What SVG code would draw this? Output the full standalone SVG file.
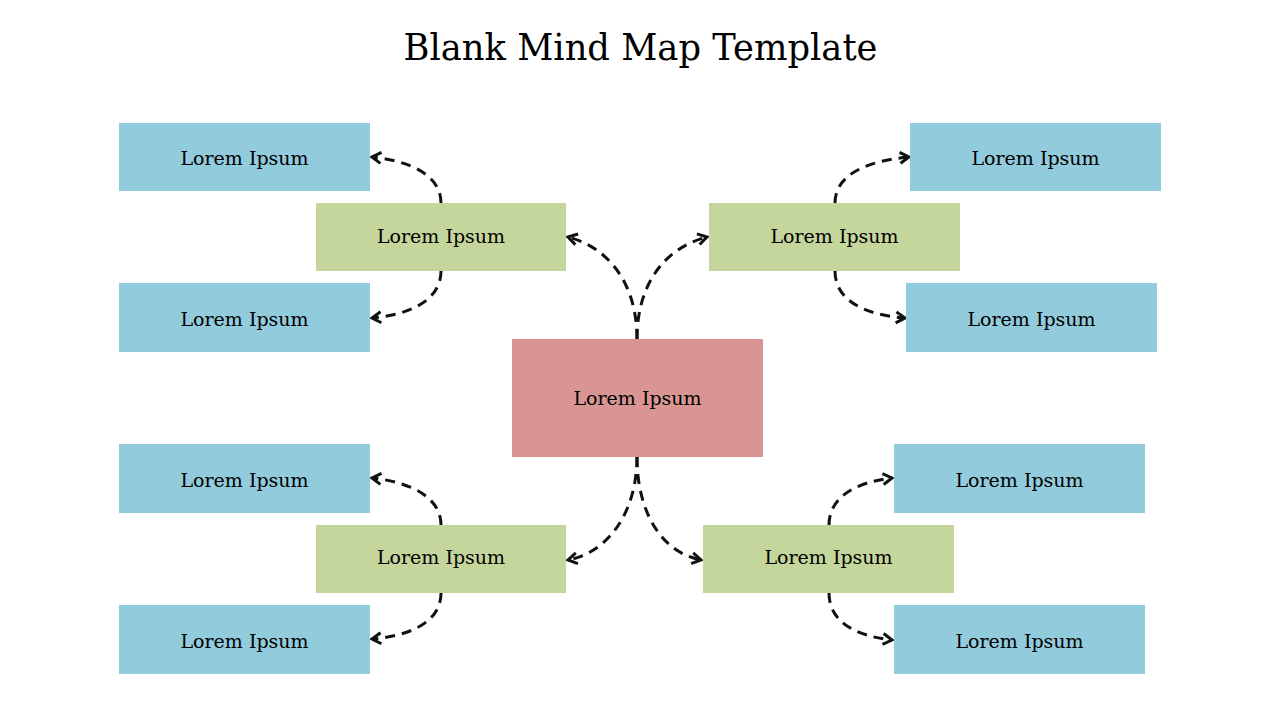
<svg xmlns="http://www.w3.org/2000/svg" width="1280" height="720" viewBox="0 0 1280 720">
<defs>
<marker id="arr" markerUnits="userSpaceOnUse" markerWidth="16" markerHeight="16" refX="11" refY="7" orient="auto">
<path d="M2,1.5 L11,7 L2,12.5" fill="none" stroke="#111" stroke-width="3" stroke-linejoin="miter"/>
</marker>
<style>
.blue{fill:#92CBDC}
.green{fill:#C4D69C}
.pink{fill:#D99594}
.t{font-family:"DejaVu Serif","Liberation Serif",serif;font-size:19px;fill:#000;text-anchor:middle;dominant-baseline:central}
.c{fill:none;stroke:#111;stroke-width:3;stroke-dasharray:10 7;marker-end:url(#arr)}
</style>
</defs>
<rect width="1280" height="720" fill="#fff"/>
<text x="640.5" y="47" textLength="474" lengthAdjust="spacingAndGlyphs" style="font-family:'DejaVu Serif','Liberation Serif',serif;font-size:37px;fill:#000;text-anchor:middle;dominant-baseline:central">Blank Mind Map Template</text>

<g id="connectors">
<path class="c" d="M637,339 C637,285 610,248 568,237"/>
<path class="c" d="M637,339 C637,285 664,248 707,237"/>
<path class="c" d="M637,457 C637,510 610,552 568,560"/>
<path class="c" d="M637,457 C637,510 660,552 701,560"/>
<path class="c" d="M441,203 C441,175 410,161 372,157"/>
<path class="c" d="M441,271 C441,300 410,315 372,318"/>
<path class="c" d="M835,203 C835,175 866,161 909,157"/>
<path class="c" d="M835,271 C835,300 864,315 905,318"/>
<path class="c" d="M441,525 C441,497 410,482 372,478"/>
<path class="c" d="M441,593 C441,622 410,636 372,639"/>
<path class="c" d="M829,525 C829,497 856,482 892,478"/>
<path class="c" d="M829,593 C829,622 856,636 892,640"/>
</g>

<g id="center"><rect class="pink" x="512" y="339" width="251" height="118"/><text class="t" x="637.5" y="398">Lorem Ipsum</text></g>

<g id="g-tl"><rect class="green" x="316" y="203" width="250" height="68"/><text class="t" x="441" y="236">Lorem Ipsum</text></g>
<g id="g-tr"><rect class="green" x="709" y="203" width="251" height="68"/><text class="t" x="834.5" y="236">Lorem Ipsum</text></g>
<g id="g-bl"><rect class="green" x="316" y="525" width="250" height="68"/><text class="t" x="441" y="557">Lorem Ipsum</text></g>
<g id="g-br"><rect class="green" x="703" y="525" width="251" height="68"/><text class="t" x="828.5" y="557">Lorem Ipsum</text></g>

<g id="b-l1"><rect class="blue" x="119" y="123" width="251" height="68"/><text class="t" x="244.5" y="158">Lorem Ipsum</text></g>
<g id="b-l2"><rect class="blue" x="119" y="283" width="251" height="69"/><text class="t" x="244.5" y="319">Lorem Ipsum</text></g>
<g id="b-l3"><rect class="blue" x="119" y="444" width="251" height="69"/><text class="t" x="244.5" y="480">Lorem Ipsum</text></g>
<g id="b-l4"><rect class="blue" x="119" y="605" width="251" height="69"/><text class="t" x="244.5" y="641">Lorem Ipsum</text></g>

<g id="b-r1"><rect class="blue" x="910" y="123" width="251" height="68"/><text class="t" x="1035.5" y="158">Lorem Ipsum</text></g>
<g id="b-r2"><rect class="blue" x="906" y="283" width="251" height="69"/><text class="t" x="1031.5" y="319">Lorem Ipsum</text></g>
<g id="b-r3"><rect class="blue" x="894" y="444" width="251" height="69"/><text class="t" x="1019.5" y="480">Lorem Ipsum</text></g>
<g id="b-r4"><rect class="blue" x="894" y="605" width="251" height="69"/><text class="t" x="1019.5" y="641">Lorem Ipsum</text></g>
</svg>
